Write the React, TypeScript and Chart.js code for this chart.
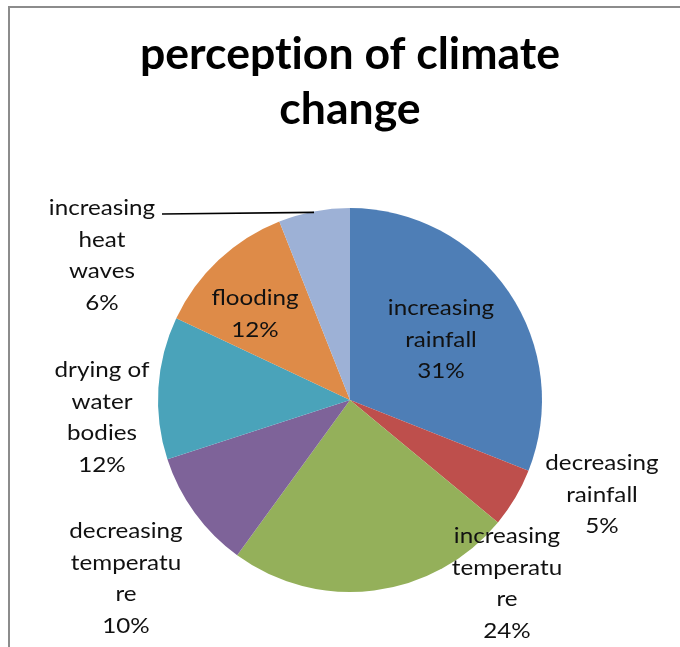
import React, { useEffect, useRef } from "react";
import { Chart, registerables } from "chart.js";

Chart.register(...registerables);

const categories = [
  "increasing rainfall",
  "decreasing rainfall",
  "increasing temperature",
  "decreasing temperature",
  "drying of water bodies",
  "flooding",
  "increasing heat waves",
];
const values = [31, 5, 24, 10, 12, 12, 6];
const labelLines = [
  ["increasing", "rainfall"],
  ["decreasing", "rainfall"],
  ["increasing", "temperatu", "re"],
  ["decreasing", "temperatu", "re"],
  ["drying of", "water", "bodies"],
  ["flooding"],
  ["increasing", "heat", "waves"],
];
const titleLines = ["perception of climate", "change"];

const colors = ["#4E7EB6", "#BE4F4C", "#94B05A", "#7E6399", "#4AA3BA", "#DE8B48", "#9DB1D6"];
// label anchor: centre x, first baseline y
const labelPos = [
  [441, 315],
  [602, 470],
  [507, 543],
  [126, 538],
  [102, 377],
  [255, 305],
  [102, 215],
];
const LINE_H = 31.5;

// draw text centred at x without ligatures (each char drawn separately)
function drawNoLig(ctx: CanvasRenderingContext2D, text: string, cx: number, y: number) {
  const chars = Array.from(text);
  const total = ctx.measureText(text.replace(/ti/g, "t\u200Bi")).width;
  let x = cx - total / 2;
  ctx.textAlign = "left";
  let buf = "";
  const flush = () => {
    if (!buf) return;
    ctx.fillText(buf, x, y);
    x += ctx.measureText(buf).width;
    buf = "";
  };
  chars.forEach((c, i) => {
    buf += c;
    if (c === "t" && chars[i + 1] === "i") flush();
  });
  flush();
  ctx.textAlign = "center";
}

const overlay = {
  id: "overlay",
  afterDraw(chart: any) {
    const ctx = chart.ctx;
    ctx.save();
    // frame
    ctx.strokeStyle = "#8c8c8c";
    ctx.lineWidth = 2;
    ctx.strokeRect(9, 7, 700, 700);
    // title
    ctx.fillStyle = "#000";
    ctx.textAlign = "center";
    ctx.textBaseline = "alphabetic";
    let fs = 42;
    ctx.font = `bold ${fs}px Lato`;
    const w = ctx.measureText(titleLines[0]).width;
    fs = (fs * 421) / w;
    ctx.font = `bold ${fs}px Lato`;
    drawNoLig(ctx, titleLines[0], 350, 69);
    drawNoLig(ctx, titleLines[1], 350, 124);
    // labels
    ctx.font = "22px Lato";
    ctx.fillStyle = "#111";
    const total = values.reduce((a, b) => a + b, 0);
    labelLines.forEach((lines, i) => {
      const [x, y] = labelPos[i];
      const all = [...lines, `${Math.round((values[i] / total) * 100)}%`];
      all.forEach((t, j) => {
        ctx.save();
        ctx.translate(x, y + j * LINE_H);
        ctx.scale(1.1, 1);
        ctx.fillText(t, 0, 0);
        ctx.restore();
      });
    });
    // leader line for heat waves
    const meta = chart.getDatasetMeta(0);
    const arc = meta.data[6];
    const a = arc.startAngle + (arc.endAngle - arc.startAngle) * 0.5;
    const ex = arc.x + Math.cos(a) * arc.outerRadius;
    const ey = arc.y + Math.sin(a) * arc.outerRadius;
    ctx.strokeStyle = "#000";
    ctx.lineWidth = 1.6;
    ctx.beginPath();
    ctx.moveTo(162, 214);
    ctx.lineTo(ex, ey + 1);
    ctx.stroke();
    ctx.restore();
  },
};

export default function App() {
  const ref = useRef<HTMLCanvasElement>(null);
  useEffect(() => {
    const chart = new Chart(ref.current!, {
      type: "pie",
      data: {
        labels: categories,
        datasets: [
          {
            data: values,
            backgroundColor: colors,
            borderWidth: 0,
          },
        ],
      },
      options: {
        responsive: false,
        animation: false,
        layout: { padding: { left: 158, right: 138, top: 208, bottom: 55 } },
        plugins: {
          legend: { display: false },
          title: { display: false },
          tooltip: { enabled: false },
        },
      },
      plugins: [overlay],
    });
    return () => chart.destroy();
  }, []);
  return (
    <div style={{ position: "absolute", left: 0, top: 0, width: 680, height: 647, background: "#fff" }}>
      <canvas ref={ref} width={680} height={647} style={{ width: 680, height: 647 }} />
    </div>
  );
}
